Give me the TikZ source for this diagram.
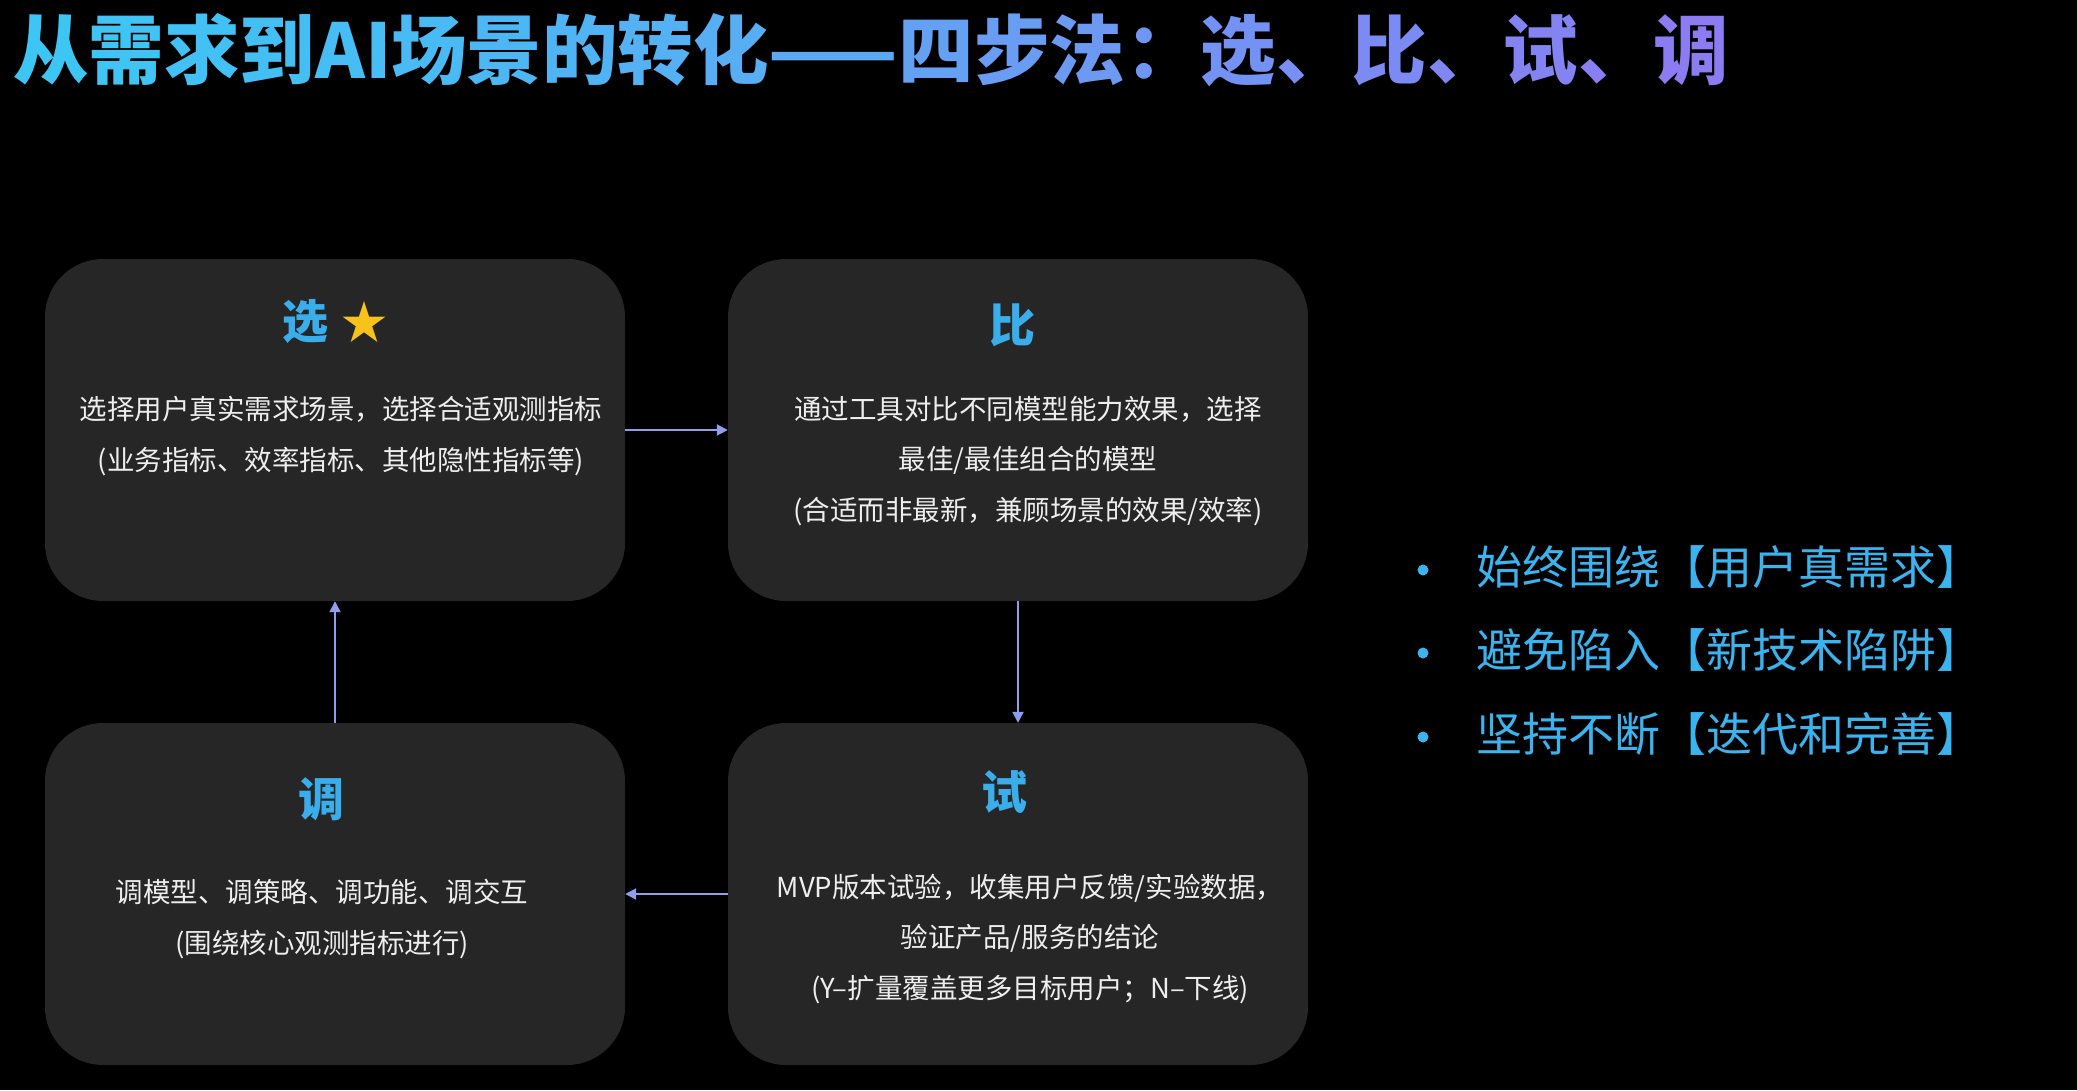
\documentclass[tikz,border=0pt]{standalone}
\usepackage{fontspec}
\setmainfont{Noto Sans CJK SC}
\newfontfamily\cjkfont{Noto Sans CJK SC}
\usetikzlibrary{arrows.meta}
\definecolor{boxfill}{HTML}{262626}
\definecolor{arrowc}{HTML}{8F9CF0}
\definecolor{headblue}{HTML}{3AADEB}
\definecolor{bodyc}{HTML}{EEEEEE}
\definecolor{starc}{HTML}{F7C31B}
\definecolor{bulletc}{HTML}{3AB3EE}
\definecolor{tA}{HTML}{3DC6F4}
\definecolor{tB}{HTML}{8C7CF2}
\newcommand{\gc}[2]{{\color{tB!#1!tA}#2}}
\tikzset{
  stepbox/.style={draw=none, fill=boxfill, rounded corners=58pt,
    minimum width=580pt, minimum height=342pt, inner sep=0pt},
  headtxt/.style={text=headblue, font=\cjkfont\bfseries\fontsize{46}{50}\selectfont, inner sep=0pt},
  bodytxt/.style={text=bodyc, align=center, font=\cjkfont\fontsize{27.5}{50.5}\selectfont, inner sep=0pt},
  bullettxt/.style={text=bulletc, anchor=west, font=\cjkfont\fontsize{46}{50}\selectfont, inner sep=0pt},
  bulletdot/.style={circle, fill=bulletc, minimum size=11pt, inner sep=0pt},
  conn/.style={draw=arrowc, line width=2pt, -{Triangle[length=11pt,width=11pt]}}
}
\begin{document}
\begin{tikzpicture}[x=1pt,y=-1pt]
\fill[black] (0,0) rectangle (2077,1090);
\useasboundingbox (0,0) rectangle (2077,1090);

% title
\node[anchor=west, inner sep=0pt, font=\cjkfont\bfseries\fontsize{75.5}{80}\selectfont] (title) at (13,50)
 {\gc{0}{从}\gc{3}{需}\gc{6}{求}\gc{9}{到}\gc{12}{AI}\gc{16}{场}\gc{20}{景}\gc{24}{的}\gc{28}{转}\gc{33}{化}\gc{40}{——}\gc{50}{四}\gc{55}{步}\gc{60}{法}\gc{65}{：}\gc{70}{选}\gc{75}{、}\gc{80}{比}\gc{85}{、}\gc{90}{试}\gc{95}{、}\gc{100}{调}};

% boxes
\node[stepbox] (xuan) at (335,430) {};
\node[stepbox] (bi) at (1018,430) {};
\node[stepbox] (tiao) at (335,894) {};
\node[stepbox] (shi) at (1018,894) {};

% headings
\node[headtxt] (hxuan) at (305,322) {选};
\node[inner sep=0pt, text=starc, font=\cjkfont\fontsize{46}{50}\selectfont] (star) at (364,322) {★};
\node[headtxt] (hbi) at (1012,325) {比};
\node[headtxt] (htiao) at (321,799) {调};
\node[headtxt] (hshi) at (1004,792) {试};

% bodies
\node[bodytxt] (txuan) at (341,436) {选择用户真实需求场景，选择合适观测指标\\(业务指标、效率指标、其他隐性指标等)};
\node[bodytxt] (tbi) at (1028,461) {通过工具对比不同模型能力效果，选择\\最佳/最佳组合的模型\\(合适而非最新，兼顾场景的效果/效率)};
\node[bodytxt] (ttiao) at (322,919) {调模型、调策略、调功能、调交互\\(围绕核心观测指标进行)};
\node[bodytxt] (tshi) at (1030,939) {MVP版本试验，收集用户反馈/实验数据，\\验证产品/服务的结论\\(Y–扩量覆盖更多目标用户；N–下线)};

% connectors
\draw[conn] (xuan.east) -- (bi.west);
\draw[conn] (bi.south) -- (shi.north);
\draw[conn] (shi.west) -- (tiao.east);
\draw[conn] (tiao.north) -- (xuan.south);

% bullets
\node[bulletdot] (b1) at (1423,570) {};
\node[bullettxt] (l1) at (1476,567) {始终围绕【用户真需求】};
\node[bulletdot] (b2) at (1423,653) {};
\node[bullettxt] (l2) at (1476,650) {避免陷入【新技术陷阱】};
\node[bulletdot] (b3) at (1423,737) {};
\node[bullettxt] (l3) at (1476,734) {坚持不断【迭代和完善】};
\end{tikzpicture}
\end{document}
